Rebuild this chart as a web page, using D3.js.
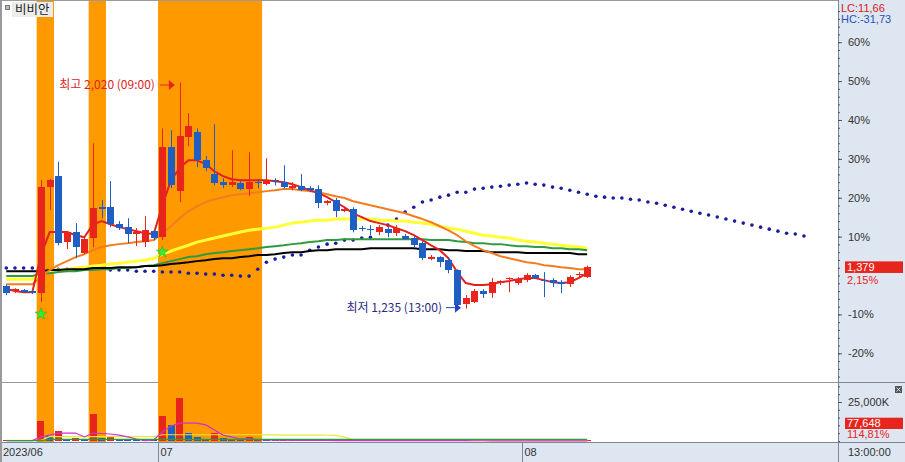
<!DOCTYPE html>
<html><head><meta charset="utf-8">
<script src="https://cdn.jsdelivr.net/npm/d3@7"></script>
<style>
body{margin:0;background:#fff;}
svg{display:block;}
text{font-family:"Liberation Sans",Arial,sans-serif;}
.kr{font-family:"Noto Sans CJK KR","Noto Sans",sans-serif;}
</style>
</head><body>
<svg id="c" width="905" height="462"></svg>
<script>
// ---------------- DATA ----------------
const title = "비비안";
const basePrice = 1350;
const openP  = [1312,1296,1300,1296,1289,1657,1695,1466,1500,1428,1479,1587,1587,1528,1518,1494,1466,1504,1483,1795,1643,1830,1847,1750,1702,1674,1664,1671,1650,1674,1667,1681,1674,1653,1660,1653,1650,1601,1612,1574,1580,1515,1511,1501,1511,1497,1487,1480,1462,1407,1414,1403,1369,1250,1257,1296,1289,1323,1337,1323,1334,1351,1334,1334,1327,1320,1351,1344];
const highP  = [1319,1306,1303,1299,1681,1685,1745,1504,1532,1487,1809,1612,1678,1539,1549,1515,1556,1508,1861,1854,2020,1914,1861,1765,1875,1688,1785,1678,1778,1685,1757,1688,1733,1674,1702,1660,1663,1612,1619,1584,1587,1522,1525,1525,1518,1525,1494,1487,1469,1421,1417,1414,1372,1282,1303,1303,1341,1334,1344,1344,1358,1355,1362,1341,1334,1351,1362,1385];
const lowP   = [1282,1289,1289,1286,1258,1577,1455,1442,1410,1424,1448,1549,1518,1508,1462,1452,1449,1473,1473,1653,1605,1799,1726,1712,1663,1653,1657,1646,1626,1653,1663,1663,1653,1646,1643,1639,1584,1594,1553,1570,1500,1504,1490,1490,1483,1487,1473,1449,1403,1403,1379,1358,1245,1235,1254,1272,1272,1317,1292,1317,1327,1338,1275,1310,1289,1310,1341,1341];
const closeP = [1289,1303,1293,1290,1657,1681,1462,1500,1449,1476,1584,1580,1528,1514,1494,1501,1508,1480,1795,1663,1833,1868,1750,1722,1671,1664,1674,1650,1674,1671,1681,1677,1657,1660,1646,1646,1601,1608,1574,1580,1508,1511,1508,1518,1497,1515,1476,1455,1410,1414,1396,1369,1247,1271,1296,1286,1327,1330,1341,1337,1351,1341,1330,1323,1320,1344,1355,1379];
const volume = [300000,200000,200000,300000,13100000,3200000,6100000,960000,1900000,1000000,17300000,2200000,3200000,1300000,960000,770000,960000,770000,16000000,10300000,27600000,5400000,2600000,1300000,5400000,1900000,1600000,1300000,2600000,1300000,900000,600000,700000,500000,800000,400000,1100000,500000,700000,400000,1000000,500000,400000,600000,500000,400000,300000,500000,900000,300000,600000,700000,1500000,900000,600000,300000,500000,250000,300000,200000,250000,150000,300000,200000,100000,90000,67632,77648];

const maRed    = [1303,1296,1292,1292,1421,1501,1501,1501,1490,1483,1528,1539,1528,1518,1511,1504,1497,1494,1594,1681,1723,1750,1750,1737,1712,1695,1684,1681,1681,1681,1681,1677,1674,1667,1657,1646,1636,1622,1605,1587,1566,1553,1539,1532,1525,1514,1504,1490,1473,1455,1438,1410,1362,1324,1317,1317,1320,1327,1331,1337,1341,1341,1334,1327,1324,1327,1341,1358];
const maOrange = [1320,1320,1320,1320,1344,1369,1386,1400,1414,1424,1438,1449,1455,1459,1462,1466,1469,1473,1497,1521,1549,1573,1591,1605,1615,1622,1629,1632,1636,1639,1643,1646,1650,1650,1646,1643,1639,1632,1625,1619,1608,1601,1594,1587,1580,1573,1566,1556,1546,1535,1521,1507,1490,1469,1452,1438,1428,1417,1410,1403,1396,1393,1386,1383,1379,1376,1372,1372];
const maYellow = [1337,1337,1337,1337,1358,1365,1369,1372,1376,1379,1383,1386,1390,1393,1396,1400,1403,1410,1424,1435,1445,1455,1466,1473,1480,1487,1494,1501,1507,1511,1514,1518,1525,1532,1535,1539,1542,1542,1546,1546,1546,1546,1546,1542,1542,1539,1539,1535,1532,1528,1521,1514,1511,1504,1497,1490,1487,1483,1480,1473,1469,1466,1462,1459,1455,1452,1449,1445];
const maGreen  = [1348,1348,1348,1348,1358,1358,1362,1365,1365,1369,1369,1372,1372,1376,1376,1379,1383,1386,1393,1400,1407,1414,1417,1424,1428,1431,1435,1438,1441,1445,1449,1452,1455,1459,1462,1466,1469,1473,1473,1476,1476,1476,1476,1476,1476,1476,1476,1476,1476,1473,1473,1473,1469,1466,1462,1462,1459,1459,1455,1452,1452,1449,1449,1445,1445,1441,1441,1438];
const maBlack  = [1365,1365,1365,1365,1365,1369,1369,1372,1372,1372,1376,1376,1376,1379,1379,1379,1383,1383,1386,1390,1393,1396,1400,1403,1407,1410,1410,1414,1417,1421,1421,1424,1428,1431,1431,1435,1438,1438,1441,1441,1441,1441,1445,1445,1445,1445,1445,1445,1441,1441,1441,1438,1438,1435,1435,1435,1431,1431,1431,1431,1428,1428,1428,1428,1428,1428,1424,1424];
// leading span (shifted forward), 93 points
const spanDots = [1376,1376,1376,1376,null,null,1372,1372,1372,1372,null,null,1369,1369,1369,1365,1365,1365,1362,1362,1362,1358,1358,1355,1355,1351,1351,1348,1348,
 1372,1396,1407,1414,1421,1421,1438,1449,1459,1462,1473,1473,1480,1483,1507,1525,1546,1570,1587,1605,1612,1622,1629,1639,1639,1650,1653,1657,1660,1664,1667,1671,1667,1664,1657,1653,1646,1639,1632,
 1625,1622,1619,1619,1615,1612,1605,1601,1594,1587,1580,1573,1566,1560,1553,1546,1539,1532,1525,1518,1511,1504,1497,1494,1487];

const volMaMagenta = [250000,250000,250000,250000,2600000,3800000,5100000,5100000,5100000,2600000,5100000,4800000,4500000,3800000,2600000,1300000,300000,640000,5800000,9600000,11500000,11500000,11500000,10300000,7000000,3800000,2600000,1300000,1300000,900000,
 700000,600000,500000,450000,400000,400000,350000,350000,300000,300000,300000,250000,250000,250000,200000,200000,200000,200000,200000,200000,250000,250000,200000,200000,150000,150000,120000,100000,100000,90000,80000,80000,70000,70000,60000,60000,60000,60000];
const volMaYellow = [400000,400000,400000,400000,400000,2800000,2800000,2800000,2800000,2800000,2800000,2800000,2800000,2800000,2800000,2800000,2800000,2800000,4000000,4000000,4000000,4000000,4000000,4000000,4000000,4000000,4000000,4000000,4000000,4000000,
 3900000,3900000,3800000,3800000,3800000,3800000,3800000,3700000,3600000,2500000,800000,250000,250000,250000,250000,250000,250000,250000,250000,250000,250000,250000,250000,250000,250000,250000,250000,250000,250000,250000,250000,250000,250000,250000,250000,250000,250000,250000];
const volMaGreen = [200000,200000,200000,200000,200000,1100000,1100000,1100000,1100000,1100000,1100000,1100000,1100000,1100000,1100000,1100000,1100000,1100000,1100000,1100000,1100000,1100000,1100000,1100000,1100000,1100000,1100000,1100000,1100000,1100000,1100000,1100000,1100000,1100000,1100000,1100000,1100000,1100000,1100000,1100000,1100000,1100000,1100000,1100000,1100000,1100000,1100000,1100000,1100000,1100000,1100000,1100000,1100000,1100000,1100000,1100000,1100000,1100000,1100000,1100000,1100000,1100000,1100000,1100000,1100000,1100000,1100000,1100000];

const bandStart = [4, 10, 18];
const bandEnd   = [5, 11, 29];
const signalIdx = [4, 18];
const timeLabels   = ["2023/06", "07", "08"];
const timeLabelIdx = [0, 18, 60];
const pctTicks = [60, 50, 40, 30, 20, 10, -10, -20];
const volTicks = [25000000];
const lastTimeLabel = "13:00:00";

// ---------------- LAYOUT ----------------
const W = 905, H = 462;
const plotRight = 838, mainBottom = 382, volTop = 383, volBottom = 441, axisTop = 442;
const step = 8.67, firstX = 6.3;
const RED = "#e8251c", BLUE = "#1f5fc4", PANEL = "#dde6f1";

const svg = d3.select("#c");
const x = d3.scaleLinear().domain([0, 1]).range([firstX, firstX + step]);
const pctY = d3.scaleLinear().domain([-20, 60]).range([353.3, 42.2]);
const yP = d3.scaleLinear().domain([basePrice * 0.8, basePrice * 1.6]).range([353.3, 42.2]);
const vy = d3.scaleLinear().domain([0, 25000000]).range([volBottom, 402]);
const n = closeP.length;
const idx = d3.range(n);

const defs = svg.append("defs");
defs.append("clipPath").attr("id", "mainClip").append("rect").attr("x", 2).attr("y", 1).attr("width", plotRight - 2).attr("height", mainBottom - 1);
defs.append("clipPath").attr("id", "volClip").append("rect").attr("x", 2).attr("y", volTop).attr("width", plotRight - 2).attr("height", volBottom - volTop + 1);

svg.append("rect").attr("width", W).attr("height", H).attr("fill", "#fff");

// pane separator (under bands)
svg.append("line").attr("x1", 0).attr("x2", W).attr("y1", mainBottom + 0.5).attr("y2", mainBottom + 0.5).attr("stroke", "#999");

// orange highlight bands
svg.append("g").selectAll("rect").data(bandStart).join("rect")
  .attr("x", (d) => x(d) - step / 2)
  .attr("width", (d, k) => x(bandEnd[k]) - x(d) + step)
  .attr("y", 1).attr("height", axisTop - 1)
  .attr("fill", "#ff9900");

// ---------- volume pane ----------
const vg = svg.append("g").attr("clip-path", "url(#volClip)");
vg.selectAll("rect").data(idx).join("rect")
  .attr("x", (i) => x(i) - 3.5).attr("width", 7)
  .attr("y", (i) => Math.min(vy(volume[i]), volBottom - 1))
  .attr("height", (i) => Math.max(1, volBottom - vy(volume[i])))
  .attr("fill", (i) => (i > 0 && volume[i] < volume[i - 1]) ? BLUE : RED)
  .attr("shape-rendering", "crispEdges");
const vline = d3.line().x((d, i) => x(i)).y((d) => vy(d)).defined((d) => d != null);
[[volMaYellow, "#e8e83a"], [volMaMagenta, "#cc33cc"], [volMaGreen, "#2f9a3f"]].forEach(([arr, col]) => {
  vg.append("path").attr("d", vline(arr)).attr("fill", "none").attr("stroke", col).attr("stroke-width", 1.2);
});

// ---------- main pane ----------
const mg = svg.append("g").attr("clip-path", "url(#mainClip)");
mg.append("g").selectAll("circle").data(spanDots.map((v, i) => [i, v]).filter((d) => d[1] != null)).join("circle")
  .attr("cx", (d) => x(d[0])).attr("cy", (d) => yP(d[1])).attr("r", 1.8).attr("fill", "#1b1b9e");

const pline = d3.line().x((d, i) => x(i)).y((d) => yP(d)).curve(d3.curveLinear);
[[maYellow, "#ffff33", 3], [maGreen, "#2f9a3f", 2], [maBlack, "#000000", 2], [maOrange, "#f47c20", 2], [maRed, "#e61e1e", 2]].forEach(([arr, col, w]) => {
  mg.append("path").attr("d", pline(arr)).attr("fill", "none").attr("stroke", col).attr("stroke-width", w).attr("stroke-linejoin", "round");
});

// candles
const cg = mg.append("g").selectAll("g").data(idx).join("g")
  .attr("fill", (i) => closeP[i] >= openP[i] ? RED : BLUE)
  .attr("stroke", (i) => closeP[i] >= openP[i] ? RED : BLUE);
cg.append("line")
  .attr("x1", (i) => Math.round(x(i)) + 0.5).attr("x2", (i) => Math.round(x(i)) + 0.5)
  .attr("y1", (i) => yP(highP[i])).attr("y2", (i) => yP(lowP[i]))
  .attr("stroke-width", 1);
cg.append("rect")
  .attr("x", (i) => Math.round(x(i)) - 3).attr("width", 7)
  .attr("y", (i) => yP(Math.max(openP[i], closeP[i])))
  .attr("height", (i) => Math.max(1.2, Math.abs(yP(openP[i]) - yP(closeP[i]))))
  .attr("stroke", "none").attr("shape-rendering", "crispEdges");

// buy signals
mg.append("g").selectAll("path").data(signalIdx).join("path")
  .attr("d", d3.symbol().type(d3.symbolStar).size(45))
  .attr("transform", (i) => `translate(${x(i)},${yP(lowP[i]) + 12})`)
  .attr("fill", "#33ee33").attr("stroke", "#22aa22").attr("stroke-width", 0.5);

// high / low annotations
const hi = d3.maxIndex(highP), lo = d3.minIndex(lowP);
function arrow(tipX, tipY, col) {
  const g = svg.append("g");
  g.append("line").attr("x1", tipX - 15).attr("x2", tipX - 5).attr("y1", tipY).attr("y2", tipY).attr("stroke", col).attr("stroke-width", 1);
  g.append("path").attr("d", `M${tipX},${tipY} L${tipX - 6},${tipY - 5} L${tipX - 6},${tipY + 5} Z`).attr("fill", col);
}
const fmt = d3.format(",");
const hiTipX = x(hi) - step / 2 - 0.5, hiTipY = yP(highP[hi]) + 2.5;
arrow(hiTipX, hiTipY, "#e8251c");
svg.append("text").attr("class", "kr").attr("x", hiTipX - 20).attr("y", hiTipY).attr("dy", "0.35em")
  .attr("text-anchor", "end").attr("font-size", 12).attr("fill", "#e0241c")
  .text(`최고 ${fmt(highP[hi])} (09:00)`);
const loTipX = x(lo) - step / 2 - 0.5, loTipY = yP(lowP[lo]) - 1;
arrow(loTipX, loTipY, "#2342c8");
svg.append("text").attr("class", "kr").attr("x", loTipX - 19).attr("y", loTipY).attr("dy", "0.35em")
  .attr("text-anchor", "end").attr("font-size", 12).attr("fill", "#2c2c84")
  .text(`최저 ${fmt(lowP[lo])} (13:00)`);

// title box
svg.append("rect").attr("x", 12).attr("y", 2).attr("width", 41).attr("height", 15).attr("fill", "#ececec");
svg.append("rect").attr("x", 5.5).attr("y", 5.5).attr("width", 4).attr("height", 4).attr("fill", "#bbb").attr("stroke", "#777");
svg.append("text").attr("class", "kr").attr("x", 15).attr("y", 9.5).attr("dy", "0.35em").attr("font-size", 12.5).attr("fill", "#222").text(title);

// ---------- axis panels ----------
svg.append("rect").attr("x", plotRight).attr("y", 0).attr("width", W - plotRight).attr("height", H).attr("fill", PANEL);
svg.append("rect").attr("x", 0).attr("y", axisTop).attr("width", plotRight).attr("height", H - axisTop).attr("fill", PANEL);
svg.append("line").attr("x1", plotRight + 0.5).attr("x2", plotRight + 0.5).attr("y1", 0).attr("y2", H).attr("stroke", "#7d8896");
svg.append("line").attr("x1", 0).attr("x2", W).attr("y1", axisTop + 0.5).attr("y2", axisTop + 0.5).attr("stroke", "#7d8896");
svg.append("line").attr("x1", plotRight).attr("x2", W).attr("y1", mainBottom + 0.5).attr("y2", mainBottom + 0.5).attr("stroke", "#7d8896");
svg.append("rect").attr("x", 0).attr("y", 0).attr("width", 2).attr("height", H).attr("fill", "#9a9a9a");
svg.append("line").attr("x1", 0).attr("x2", plotRight).attr("y1", 0.5).attr("y2", 0.5).attr("stroke", "#9a9a9a");

function styleAxis(g) {
  g.select(".domain").remove();
  g.selectAll(".tick line").attr("stroke", "#555");
  g.selectAll(".tick text").attr("font-size", 11).attr("fill", "#333").attr("font-family", "Liberation Sans, Arial, sans-serif");
}
// minor ticks main
svg.append("g").attr("transform", `translate(${plotRight},0)`)
  .call(d3.axisRight(pctY).tickValues(d3.range(-26, 70, 2).filter((v) => pctY(v) > 4 && pctY(v) < mainBottom - 2)).tickSize(2).tickFormat(""))
  .call(styleAxis);
svg.append("g").attr("transform", `translate(${plotRight},0)`)
  .call(d3.axisRight(pctY).tickValues(pctTicks).tickSize(4).tickPadding(6).tickFormat((d) => d + "%"))
  .call(styleAxis);
// volume axis
svg.append("g").attr("transform", `translate(${plotRight},0)`)
  .call(d3.axisRight(vy).tickValues(d3.range(0, 40000001, 5000000).filter((v) => vy(v) > volTop + 1)).tickSize(2).tickFormat(""))
  .call(styleAxis);
svg.append("g").attr("transform", `translate(${plotRight},0)`)
  .call(d3.axisRight(vy).tickValues(volTicks).tickSize(4).tickPadding(6).tickFormat((d) => fmt(d / 1000) + "K"))
  .call(styleAxis);

// LC / HC
const last = n - 1;
const lc = (closeP[last] / lowP[lo] - 1) * 100;
const hc = (closeP[last] / highP[hi] - 1) * 100;
const dec = (v) => v.toFixed(2).replace(".", ",");
svg.append("text").attr("x", 841).attr("y", 8).attr("dy", "0.35em").attr("font-size", 11).attr("fill", "#d8201a").text("LC:" + dec(lc));
svg.append("text").attr("x", 841).attr("y", 19.5).attr("dy", "0.35em").attr("font-size", 11).attr("fill", "#2652b8").text("HC:" + dec(hc));

// last price label
const py = yP(closeP[last]);
svg.append("rect").attr("x", 845).attr("y", py - 5.8).attr("width", 58).attr("height", 11.6).attr("fill", RED);
svg.append("text").attr("x", 847).attr("y", py).attr("dy", "0.36em").attr("font-size", 11).attr("fill", "#fff").text(fmt(closeP[last]));
svg.append("text").attr("x", 847).attr("y", py + 12.7).attr("dy", "0.36em").attr("font-size", 11).attr("fill", RED).text(dec((closeP[last] / basePrice - 1) * 100) + "%");

// last volume label
const vly = Math.min(vy(volume[last]), volBottom - 17.7);
svg.append("rect").attr("x", 845).attr("y", vly - 5.6).attr("width", 58).attr("height", 11.3).attr("fill", RED);
svg.append("text").attr("x", 847).attr("y", vly).attr("dy", "0.36em").attr("font-size", 11).attr("fill", "#fff").text(fmt(volume[last]));
svg.append("text").attr("x", 847).attr("y", vly + 11).attr("dy", "0.36em").attr("font-size", 11).attr("fill", RED).text(dec(volume[last] / volume[last - 1] * 100) + "%");

// close button in volume pane
svg.append("rect").attr("x", 895).attr("y", 386).attr("width", 7).attr("height", 7).attr("fill", "#555");
svg.append("path").attr("d", "M896.5,387.5 L900.5,391.5 M900.5,387.5 L896.5,391.5").attr("stroke", "#fff").attr("stroke-width", 0.8);

// time axis
const tg = svg.append("g");
timeLabelIdx.forEach((ti, k) => {
  const sx = ti === 0 ? 1 : Math.round(x(ti) - step / 2) + 0.5;
  if (ti !== 0) tg.append("line").attr("x1", sx).attr("x2", sx).attr("y1", axisTop).attr("y2", H).attr("stroke", "#7d8896");
  tg.append("text").attr("x", sx + 2).attr("y", 452).attr("dy", "0.36em").attr("font-size", 11).attr("fill", "#333").text(timeLabels[k]);
});
svg.append("text").attr("x", 848).attr("y", 452).attr("dy", "0.36em").attr("font-size", 11).attr("fill", "#333").text(lastTimeLabel);
</script>
</body></html>
